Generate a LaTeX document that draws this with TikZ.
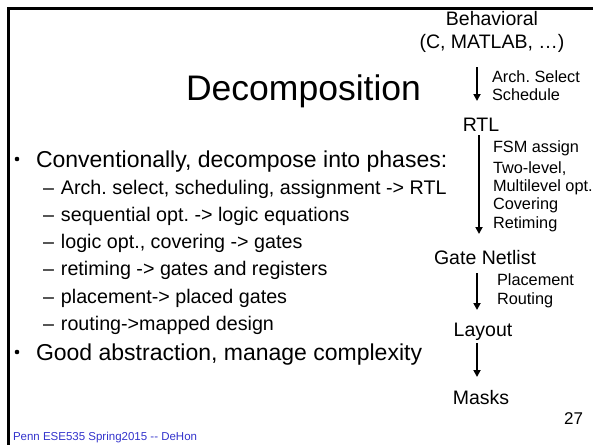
\documentclass[tikz,border=0pt]{standalone}
\usepackage{fontspec}
\setmainfont{Liberation Sans}
\usetikzlibrary{arrows.meta}
\definecolor{footblue}{RGB}{51,51,204}
\begin{document}
\frenchspacing
\begin{tikzpicture}[x=1pt,y=-1pt,
  base/.style={inner sep=0pt, outer sep=0pt},
  lw/.style={base, anchor=base west},
  cb/.style={base, anchor=base},
  dot/.style={circle, fill, inner sep=0pt, minimum size=4.6pt},
  titlefont/.style={font=\fontsize{35.5}{40}\selectfont},
  bulletfont/.style={font=\fontsize{23}{27}\selectfont},
  subfont/.style={font=\fontsize{19.7}{23}\selectfont},
  levelfont/.style={font=\fontsize{19.5}{23}\selectfont},
  stepfont/.style={font=\fontsize{16.3}{19}\selectfont},
  flow/.style={line width=1.8pt, -{Triangle[length=7pt,width=7pt]}},
  frameline/.style={line width=2.4pt}]
\useasboundingbox (0,0) rectangle (593,445);

% slide frame (top and left rules)
\draw[frameline] (593,8.5) -- (8.5,8.5) -- (8.5,445);

% title
\node[cb, titlefont] (title) at (303.5,100) {Decomposition};

% bullet list
\node[dot] (b1m) at (17,159) {};
\node[lw, bulletfont] (b1) at (36,167) {Conventionally, decompose into phases:};
\node[lw, subfont] (s1) at (43,194) {\textendash\hspace{7pt}Arch. select, scheduling, assignment -> RTL};
\node[lw, subfont] (s2) at (43,221) {\textendash\hspace{7pt}sequential opt. -> logic equations};
\node[lw, subfont] (s3) at (43,248) {\textendash\hspace{7pt}logic opt., covering -> gates};
\node[lw, subfont] (s4) at (43,275) {\textendash\hspace{7pt}retiming -> gates and registers};
\node[lw, subfont] (s5) at (43,303) {\textendash\hspace{7pt}placement-> placed gates};
\node[lw, subfont] (s6) at (43,330) {\textendash\hspace{7pt}routing->mapped design};
\node[dot] (b2m) at (17,352) {};
\node[lw, bulletfont] (b2) at (36,360) {Good abstraction, manage complexity};

% design levels
\node[cb, levelfont] (beh) at (492,25) {Behavioral};
\node[cb, levelfont] (behlang) at (492,48) {(C, MATLAB, \dots)};
\node[cb, levelfont] (rtl) at (481,131) {RTL};
\node[cb, levelfont] (gate) at (485,264) {Gate Netlist};
\node[cb, levelfont] (layout) at (483,336) {Layout};
\node[cb, levelfont] (masks) at (481,404) {Masks};

% transformation steps
\node[lw, stepfont] (t1a) at (492,82) {Arch. Select};
\node[lw, stepfont] (t1b) at (492,100) {Schedule};
\node[lw, stepfont] (t2a) at (493,152) {FSM assign};
\node[lw, stepfont] (t2b) at (493,173) {Two-level,};
\node[lw, stepfont] (t2c) at (493,191) {Multilevel opt.};
\node[lw, stepfont] (t2d) at (493,209) {Covering};
\node[lw, stepfont] (t2e) at (493,228) {Retiming};
\node[lw, stepfont] (t3a) at (497,285) {Placement};
\node[lw, stepfont] (t3b) at (497,304) {Routing};

% arrow end points
\coordinate (a1s) at (477,67);
\coordinate (a1e) at (477,101);
\coordinate (a2s) at (479,135);
\coordinate (a2e) at (479,234);
\coordinate (a3s) at (477,273);
\coordinate (a3e) at (477,310);
\coordinate (a4s) at (477,343);
\coordinate (a4e) at (477,377);
\draw[flow] (a1s) -- (a1e);
\draw[flow] (a2s) -- (a2e);
\draw[flow] (a3s) -- (a3e);
\draw[flow] (a4s) -- (a4e);

% footer and page number
\node[lw, font=\fontsize{11.5}{13}\selectfont, text=footblue] (foot) at (13,440) {Penn ESE535 Spring2015 -{}- DeHon};
\node[base, anchor=base east, font=\fontsize{17}{20}\selectfont] (pnum) at (583,424) {27};
\end{tikzpicture}
\end{document}
